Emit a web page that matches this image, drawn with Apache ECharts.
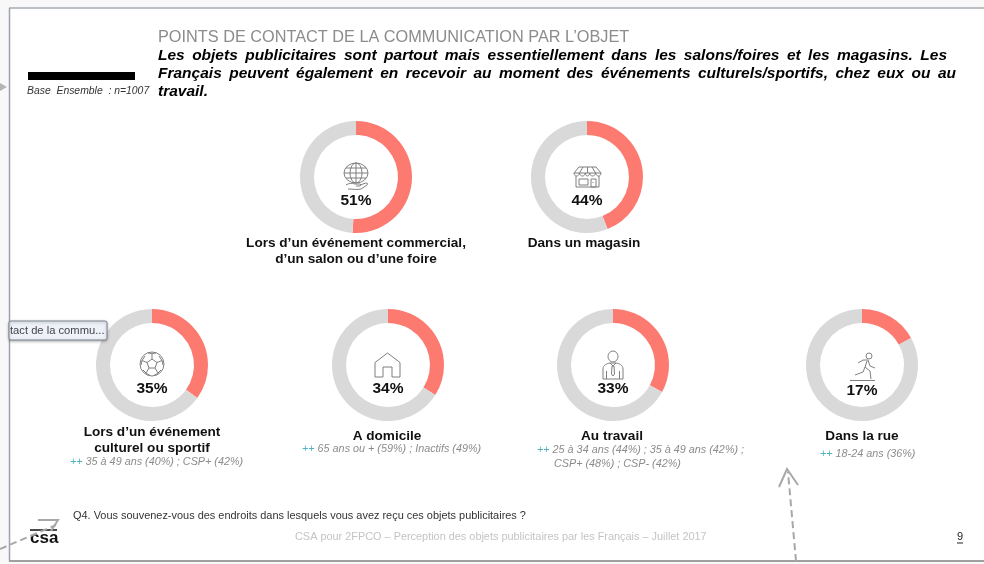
<!DOCTYPE html>
<html><head><meta charset="utf-8">
<style>html,body{margin:0;padding:0;background:#fff}#c{width:984px;height:564px}</style>
<script src="https://cdn.jsdelivr.net/npm/echarts@6/dist/echarts.min.js"></script>
</head><body><div id="c"></div>
<script>
const categories = ["Lors d’un événement commercial,\nd’un salon ou d’une foire","Dans un magasin","Lors d’un événement\nculturel ou sportif","A domicile","Au travail","Dans la rue"];
const percents = [51,44,35,34,33,17];
const details = ["","",["35 à 49 ans (40%) ; CSP+ (42%)"],["65 ans ou + (59%) ; Inactifs (49%)"],["25 à 34 ans (44%) ; 35 à 49 ans (42%) ;","CSP+ (48%) ; CSP- (42%)"],["18-24 ans (36%)"]];
const centers = [[356,177],[587,177],[152,365],[388,365],[613,365],[862,365]];
const labelY = [243,243,432,436,436,436];
const pctOffset = [23.5,23.5,23.5,23.5,23.5,25.5];
const detailY = [0,0,462,449,450,454];
const headline = "POINTS DE CONTACT DE LA COMMUNICATION PAR L’OBJET";
const messageLines = [
 ["Les objets publicitaires sont partout mais essentiellement dans les salons/foires et les magasins. Les",158,947,56],
 ["Français peuvent également en recevoir au moment des événements culturels/sportifs, chez eux ou au",158,956,74],
 ["travail.",158,0,92]];
const FONT = '"Liberation Sans",Arial,sans-serif';
const G = '#7f7f7f';
const icons = [
 {box:[343,163,26,27],d:"M1 10a12 10 0 1 0 24 0a12 10 0 1 0-24 0M7 10a6 10 0 1 0 12 0a6 10 0 1 0-12 0M13 0V20M1 10H25M3 5H23M3 15H23M3 22C6 20 9 20 12 21H17C18 21 18 23 17 23H13M17 22L23 20C25 20 25 21 24 22L18 26C14 27 9 26 5 26"},
 {box:[574,167,27,20],d:"M5 0H22L27 6C27 10 22 10 21.6 6C21 10 16 10 15.8 6C15 10 12 10 11.2 6C11 10 6 10 5.4 6C5 10 0 10 0 6ZM0 6H27M2 9V20H25V9M9 0L5.4 6M13.5 0V6M18 0L21.6 6M5 12H14V18H5ZM17 12H22V20H17ZM19 15V16"},
 {box:[140,352,24,24],d:"M0 12a12 12 0 1 0 24 0a12 12 0 1 0-24 0M12 7L17 10.5L15 16H9L7 10.5ZM12 7V1.5M17 10.5L22 8.5M15 16L18 21M9 16L6 21M7 10.5L2 8.5M8 1L12 1.5L16 1M1 13L2 8.5L5 4M23 13L22 8.5L19 4M3 18L6 21L10 23.5M21 18L18 21L14 23.5"},
 {box:[375,353,25,24],d:"M0 9.5L12.5 0L25 9.5V24H17V14H8V24H0Z"},
 {box:[603,351,20,28],d:"M5 5.5a5 5.5 0 1 0 10 0a5 5.5 0 1 0-10 0M0 28V18C0 14 4 12.5 7 12L13 12C16 12.5 20 14 20 18V28ZM7 12L10 15L13 12M9 15H11L11.5 23L10 25L8.5 23ZM3.5 20V28M16.5 20V28"},
 {box:[850,353,25,28],d:"M16 3a3 3 0 1 0 6 0a3 3 0 1 0-6 0M8 10L13 7H18L20 13L25 15M17 8L15 14L20 18L21 26M15 14L13 19L5 22M0 27.5H25"}
];

const series = percents.map((p,i)=>({
  type:'pie', center:centers[i], radius:[42,56], startAngle:90, clockwise:true, silent:true,
  itemStyle:{borderWidth:0}, emphasis:{disabled:true},
  label:{show:false}, labelLine:{show:false},
  data:[
   {value:p,name:'oui',itemStyle:{color:'#fc7a70'},
    label:{show:true,position:'center',formatter:'{c}%',offset:[0,pctOffset[i]],fontFamily:FONT,fontSize:15.5,fontWeight:'bold',color:'#111'}},
   {value:100-p,name:'reste',itemStyle:{color:'#d9d9d9'}}
  ]
}));

const Z = 50;
const txt = (x,y,text,o)=>({type:'text',x,y,z:Z,silent:true,style:Object.assign({text,fontFamily:FONT,verticalAlign:'middle'},o)});
const g = [];
// page frame
g.push({type:'rect',z:1,shape:{x:0,y:0,width:984,height:564},style:{fill:'#f8f8f8'}});
g.push({type:'rect',z:1,shape:{x:9,y:8,width:975,height:553},style:{fill:'#fff'}});
g.push({type:'line',z:2,shape:{x1:9,y1:8,x2:984,y2:8},style:{stroke:'#a6adb4',lineWidth:1.5}});
g.push({type:'line',z:2,shape:{x1:9.5,y1:8,x2:9.5,y2:561},style:{stroke:'#9aa3ad',lineWidth:1.5}});
g.push({type:'line',z:2,shape:{x1:9,y1:561,x2:984,y2:561},style:{stroke:'#a0a0a0',lineWidth:2}});
// header
g.push(txt(158,38,headline,{fontSize:16.3,fill:'#8c8c8c'}));
const ctx=document.createElement('canvas').getContext('2d');
ctx.font='italic bold 15.5px "Liberation Sans"';
messageLines.forEach(([line,x0,x1,y])=>{
  const words=line.split(' ');
  const w=words.map(s=>ctx.measureText(s).width);
  const total=w.reduce((a,b)=>a+b,0);
  const gap=x1?(x1-x0-total)/(words.length-1):4;
  let x=x0;
  words.forEach((s,k)=>{g.push(txt(x,y,s,{fontStyle:'italic',fontWeight:'bold',fontSize:15.5,fill:'#000'}));x+=w[k]+gap;});
});
g.push({type:'rect',z:Z,shape:{x:28,y:72,width:107,height:8},style:{fill:'#000'}});
g.push(txt(27,91,'Base  Ensemble  : n=1007',{fontStyle:'italic',fontSize:10.4,fill:'#333'}));
// category labels
const labelDx=[0,-3,0,-1,-1,0];
const detailX=[0,0,70,302,0,820];
categories.forEach((c,i)=>{
  c.split('\n').forEach((l,k)=>g.push(txt(centers[i][0]+labelDx[i],labelY[i]+k*16.5,l,{fontWeight:'bold',fontSize:13.6,fill:'#111',align:'center'})));
  if(details[i]) details[i].forEach((l,k)=>{
    const t=(k==0)?'{a|++ }{b|'+l+'}':'{b|'+l+'}';
    g.push(txt(i==4?(k==0?537:554):detailX[i],detailY[i]+k*14,t,{
      fontSize:10.8,rich:{a:{fontSize:10.8,fontFamily:FONT,fill:'#4fb3bf',fontStyle:'italic'},b:{fontSize:10.8,fontFamily:FONT,fill:'#8c8c8c',fontStyle:'italic'}}}));
  });
});
// icons
icons.forEach((ic,i)=>{
  echarts.graphic.registerShape('icon'+i, echarts.graphic.extendPath(ic.d,{}));
  g.push({type:'icon'+i,z:Z,silent:true,x:ic.box[0],y:ic.box[1],style:{fill:'none',stroke:G,lineWidth:1}});
});
// footer
g.push(txt(73,516,'Q4. Vous souvenez-vous des endroits dans lesquels vous avez reçu ces objets publicitaires ?',{fontSize:10.95,fill:'#333'}));
g.push(txt(295,537,'CSA pour 2FPCO – Perception des objets publicitaires par les Français – Juillet 2017',{fontSize:10.9,fill:'#c4c4c4'}));
g.push(txt(957,537,'9',{fontSize:11,fill:'#222'}));
g.push({type:'line',z:Z,shape:{x1:957,y1:543,x2:963,y2:543},style:{stroke:'#222',lineWidth:1}});
// logo
g.push(txt(30,538,'csa',{fontWeight:'bold',fontSize:17,fill:'#111'}));
g.push({type:'line',z:Z,shape:{x1:30,y1:530,x2:57,y2:530},style:{stroke:'#111',lineWidth:1.5}});
// annotation arrows
const dash={stroke:'#a8a8a8',lineWidth:2,lineDash:[7,4],fill:'none'};
const solid={stroke:'#a8a8a8',lineWidth:2,fill:'none'};
g.push({type:'line',z:Z+1,shape:{x1:796,y1:561,x2:788,y2:472},style:dash});
g.push({type:'polyline',z:Z+1,shape:{points:[[779,487],[787,469],[798,485]]},style:solid});
g.push({type:'line',z:Z+1,shape:{x1:0,y1:549,x2:56,y2:525},style:dash});
g.push({type:'polyline',z:Z+1,shape:{points:[[38,520],[58,520],[51,531]]},style:solid});
g.push({type:'polygon',z:Z,shape:{points:[[0,83],[7,87],[0,91]]},style:{fill:'#b5b5b5'}});
// tooltip chip
g.push({type:'rect',z:Z+2,shape:{x:9,y:321,width:98,height:19,r:2},style:{fill:'#eef1f8',stroke:'#7d8694',lineWidth:1,shadowBlur:3,shadowColor:'rgba(0,0,0,.3)',shadowOffsetY:1}});
g.push(Object.assign(txt(10,331,'tact de la commu...',{fontSize:11.2,fill:'#44444e'}),{z:Z+3}));

const chart=echarts.init(document.getElementById('c'),null,{renderer:'canvas'});
chart.setOption({animation:false,backgroundColor:'#fff',tooltip:{show:false},legend:{show:false},graphic:{elements:g},series});
</script></body></html>
